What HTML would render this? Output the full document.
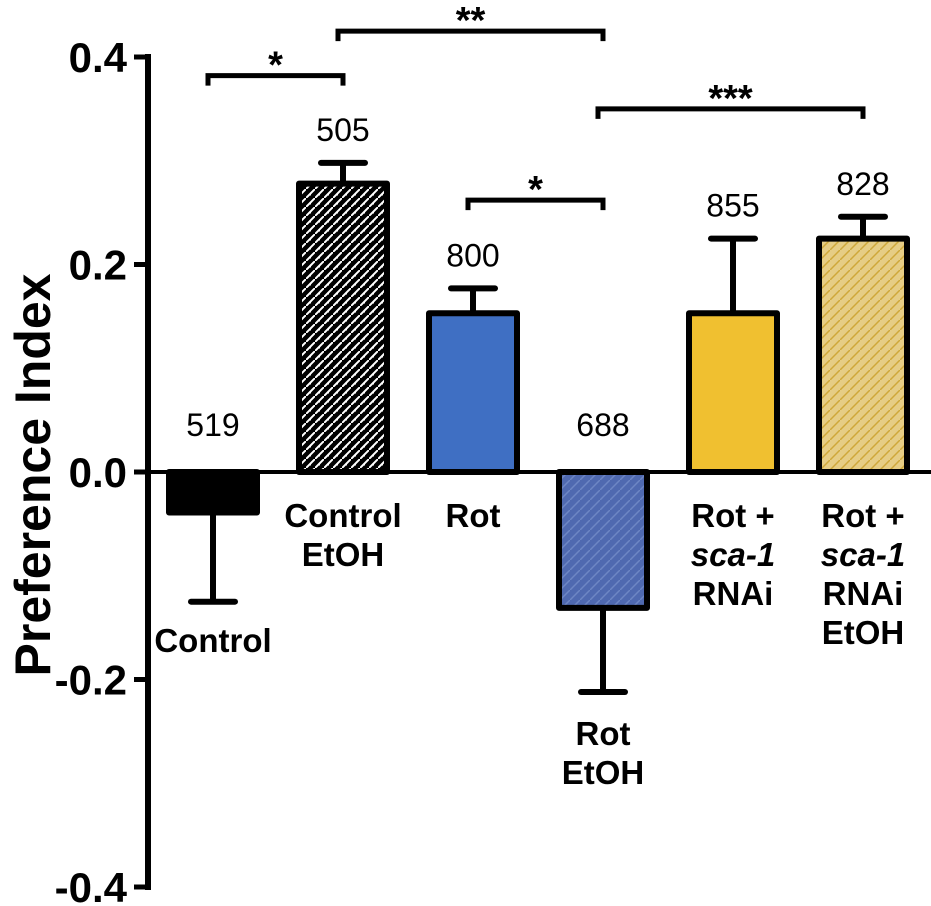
<!DOCTYPE html>
<html><head><meta charset="utf-8"><style>
body{margin:0;background:#fff}
svg{display:block;font-family:"Liberation Sans",Arial,sans-serif}
</style></head><body>
<svg id="chart" width="931" height="906" viewBox="0 0 931 906" xmlns="http://www.w3.org/2000/svg">
<defs>
<pattern id="pBlack" patternUnits="userSpaceOnUse" width="9" height="9">
<rect width="9" height="9" fill="#000"/><path d="M-2,11 L11,-2" stroke="#fff" stroke-width="2"/><path d="M2,6 L5,6" stroke="#fff" stroke-width="1"/>
</pattern>
<pattern id="pBlue" patternUnits="userSpaceOnUse" width="10" height="10">
<rect width="10" height="10" fill="#4f69b0"/><path d="M-2,12 L12,-2" stroke="#6d86c4" stroke-width="1.5"/>
</pattern>
<pattern id="pTan" patternUnits="userSpaceOnUse" width="10" height="10">
<rect width="10" height="10" fill="#e6cd85"/><path d="M-2,12 L12,-2" stroke="#cfa83a" stroke-width="1.5"/>
</pattern>
</defs>
<g id="plot"></g>
</svg>
<script>
const categories=["Control","Control EtOH","Rot","Rot EtOH","Rot + sca-1 RNAi","Rot + sca-1 RNAi EtOH"];
const values=[-0.039,0.278,0.153,-0.131,0.153,0.225];
const errors=[0.086,0.020,0.024,0.081,0.072,0.021];
const counts=["519","505","800","688","855","828"];
const yTicks=[0.4,0.2,0.0,-0.2,-0.4];
const yTickLabels=["0.4","0.2","0.0","-0.2","-0.4"];
const fills=["#000","url(#pBlack)","#3f6fc3","url(#pBlue)","#f0c030","url(#pTan)"];
const sigPairs=[[0,1,"*"],[1,3,"**"],[2,3,"*"],[3,5,"***"]];
const sigLevels=[0.382,0.425,0.262,0.350];

const NS="http://www.w3.org/2000/svg";
const g=document.getElementById("plot");
function y(v){return 472-v*1037.5;}
function xc(i){return 213+i*130;}
function el(t,a,txt){const e=document.createElementNS(NS,t);for(const k in a)e.setAttribute(k,a[k]);if(txt!==undefined)e.textContent=txt;g.appendChild(e);return e;}
values.forEach((v,i)=>{
 const top=Math.min(y(v),y(0)),h=Math.abs(y(v)-y(0));
 const b=el("rect",{x:xc(i)-44,y:top,width:88,height:h,fill:fills[i],stroke:"#000","stroke-width":6,"stroke-linejoin":"round"});
 
 
 const ev=v+(v>=0?errors[i]:-errors[i]);
 const e1=el("line",{x1:xc(i),x2:xc(i),y1:y(v),y2:y(ev),stroke:"#000","stroke-width":6});
 
 
 el("line",{x1:xc(i)-22,x2:xc(i)+22,y1:y(ev),y2:y(ev),stroke:"#000","stroke-width":6,"stroke-linecap":"round"});
 const labY=v>=0?y(v+errors[i])-22:y(0)-36;
 const t=el("text",{x:xc(i),y:labY,"font-size":32,"text-anchor":"middle"},counts[i]);
 
 
});
const za=el("line",{x1:141,x2:931,y1:y(0),y2:y(0),stroke:"#000","stroke-width":4});


const ya=el("line",{x1:148,x2:148,y1:y(0.4)-3,y2:y(-0.4)+3,stroke:"#000","stroke-width":6});


yTicks.forEach((v,i)=>{
 el("line",{x1:134,x2:148,y1:y(v),y2:y(v),stroke:"#000","stroke-width":5});
 const t=el("text",{x:127,y:y(v)+15,"font-size":42,"font-weight":"bold","text-anchor":"end"},yTickLabels[i]);
 
 
});
const yt=el("text",{x:0,y:0,"font-size":50,"font-weight":"bold","text-anchor":"middle",transform:"translate(50,475) rotate(-90)"},"Preference Index");


const catLines=[[["Control"]],[["Control"],["EtOH"]],[["Rot"]],[["Rot"],["EtOH"]],[["Rot +"],["sca-1",1],["RNAi"]],[["Rot +"],["sca-1",1],["RNAi"],["EtOH"]]];
const catStart=[652,527,527,745,527,527];
catLines.forEach((ls,i)=>{
 ls.forEach((l,j)=>{
  const a={x:xc(i),y:catStart[i]+j*39,"font-size":33,"font-weight":"bold","text-anchor":"middle"};
  if(l[1])a["font-style"]="italic";
  const t=el("text",a,l[0]);
  
  
 });
});
sigPairs.forEach((p,k)=>{
 const x1=xc(p[0])-5,x2=xc(p[1]),yy=y(sigLevels[k]);
 const b=el("path",{d:`M${x1} ${yy+10} L${x1} ${yy} L${x2} ${yy} L${x2} ${yy+10}`,fill:"none",stroke:"#000","stroke-width":5});
 
 
 const t=el("text",{x:(x1+x2)/2,y:yy+2,"font-size":38,"font-weight":"bold","text-anchor":"middle"},p[2]);
 
 
});
</script>
</body></html>
